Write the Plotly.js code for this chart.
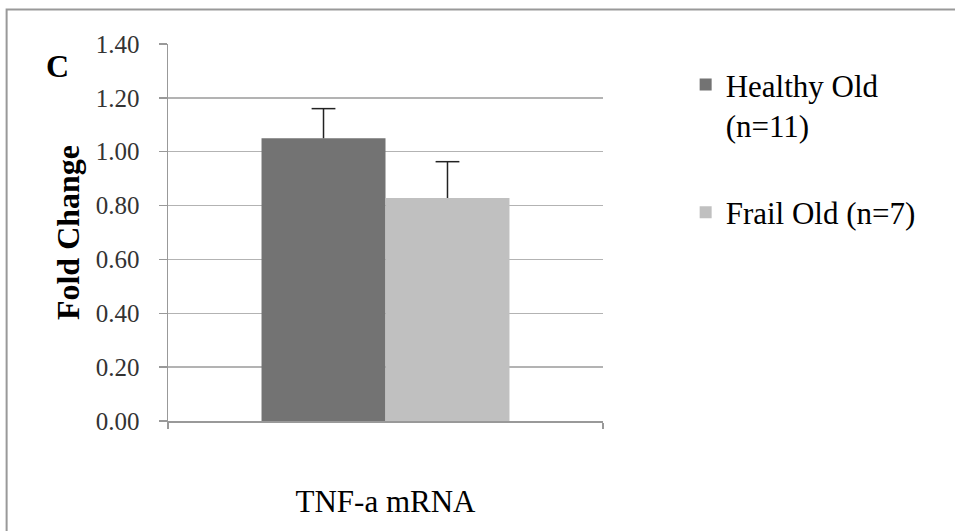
<!DOCTYPE html>
<html>
<head>
<meta charset="utf-8">
<script src="https://cdn.plot.ly/plotly-3.0.1.min.js"></script>
<style>html,body{margin:0;padding:0;background:#fff;}#chart{width:955px;height:531px;}</style>
</head>
<body>
<div id="chart"></div>
<script>
const categories = ["TNF-a mRNA"];
const seriesNames = ["Healthy Old<br>(n=11)", "Frail Old (n=7)"];
const healthyValues = [1.05];
const healthyErrors = [0.11];
const frailValues = [0.828];
const frailErrors = [0.135];
const yTicks = [0, 0.2, 0.4, 0.6, 0.8, 1.0, 1.2, 1.4];

const errColor = '#222';
const serif = "'Liberation Serif', 'Times New Roman', serif";

function tops(v, e) { return v.map((d, i) => d + e[i]); }

const capMarker = {symbol: 'line-ew-open', size: 17, color: errColor, line: {color: errColor, width: 1.5}};

const traces = [
  {
    type: 'bar', name: seriesNames[0], x: categories, y: healthyValues,
    marker: {color: '#737373'}, legendgroup: 'a',
    error_y: {type: 'data', array: healthyErrors, arrayminus: [0], symmetric: false, visible: true,
              color: errColor, thickness: 1.5, width: 0}
  },
  {
    type: 'bar', name: seriesNames[1], x: categories, y: frailValues,
    marker: {color: '#c0c0c0'}, legendgroup: 'b',
    error_y: {type: 'data', array: frailErrors, arrayminus: [0], symmetric: false, visible: true,
              color: errColor, thickness: 1.5, width: 0}
  },
  {
    type: 'scatter', mode: 'markers', x: categories, y: tops(healthyValues, healthyErrors),
    showlegend: false, hoverinfo: 'skip', marker: capMarker
  },
  {
    type: 'scatter', mode: 'markers', x: categories, y: tops(frailValues, frailErrors),
    showlegend: false, hoverinfo: 'skip', marker: capMarker
  }
];

const layout = {
  width: 955, height: 531,
  margin: {l: 168, r: 352, t: 44, b: 110},
  paper_bgcolor: '#fff', plot_bgcolor: '#fff',
  barmode: 'group', bargap: 0.43, bargroupgap: 0,
  scattermode: 'group', scattergap: 0.43,
  showlegend: true,
  legend: {
    x: 1.19, y: 0.963, xanchor: 'left', yanchor: 'top',
    valign: 'top', traceorder: 'grouped', tracegroupgap: 44,
    font: {family: serif, size: 31, color: '#000'},
    bgcolor: 'rgba(0,0,0,0)'
  },
  xaxis: {
    type: 'category', tickson: 'boundaries', ticks: 'outside', ticklen: 6,
    tickcolor: '#999', tickwidth: 1.5,
    showline: true, linecolor: '#999', linewidth: 1.5,
    showgrid: false,
    tickfont: {family: serif, size: 31, color: '#000'},
    ticklabelstandoff: 52
  },
  yaxis: {
    range: [0, 1.4], tickvals: yTicks, tickformat: '.2f',
    ticks: 'outside', ticklen: 8, tickcolor: '#999', tickwidth: 1.5,
    showline: true, linecolor: '#999', linewidth: 1.5,
    showgrid: true, gridcolor: '#b3b3b3', gridwidth: 1.5,
    zeroline: false,
    tickfont: {family: serif, size: 25, color: '#333'},
    ticklabelstandoff: 14,
    title: {text: 'Fold Change', standoff: 6,
      font: {family: serif, size: 32, color: '#000', weight: 'bold'}}
  },
  annotations: [
    {text: 'C', xref: 'paper', yref: 'paper', x: -0.253, y: 0.942, xanchor: 'center', yanchor: 'middle',
     showarrow: false,
     font: {family: serif, size: 32, color: '#000', weight: 'bold'}}
  ],
  shapes: [
    {type: 'rect', xref: 'paper', yref: 'paper', x0: -0.371, x1: 1.9, y0: -0.5, y1: 1.0915,
     line: {color: '#999', width: 2}, layer: 'below'}
  ]
};

Plotly.newPlot('chart', traces, layout, {displayModeBar: false, staticPlot: true});
</script>
</body>
</html>
